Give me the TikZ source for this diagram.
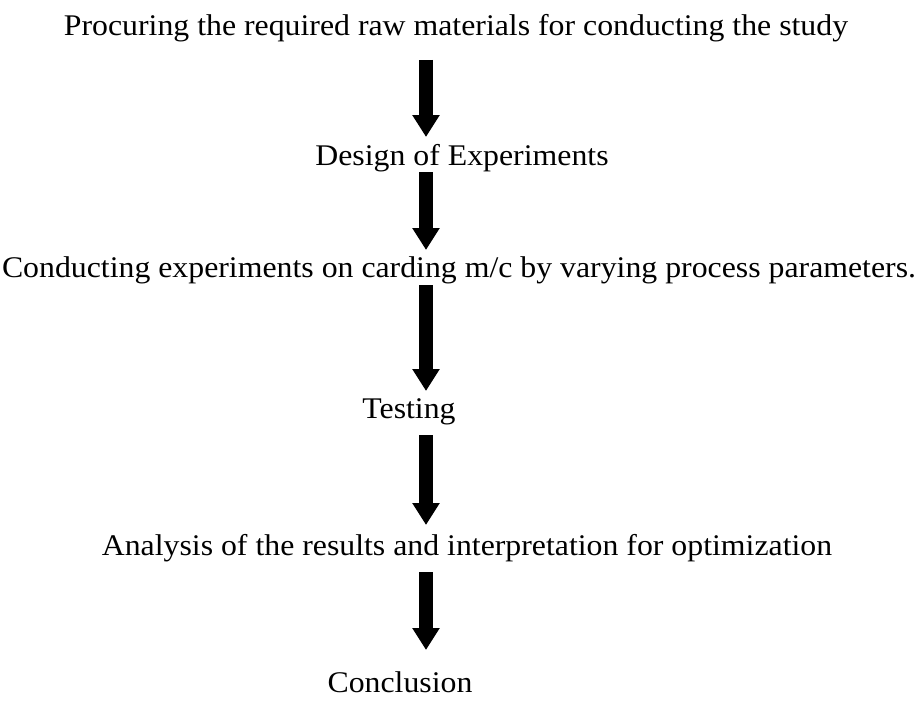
\documentclass[tikz,border=0pt]{standalone}
\usepackage{fontspec}
\setmainfont{Liberation Serif}
\usetikzlibrary{arrows.meta}
\newcommand{\widetext}[1]{\scalebox{1.06}[1]{#1}}
\begin{document}
\begin{tikzpicture}[x=1pt,y=-1pt,
  steptext/.style={inner sep=0pt,font=\fontsize{30}{34}\selectfont},
  bigarrow/.style={line width=14pt,-{Triangle[width=26pt,length=22pt]}}]
\useasboundingbox (0,0) rectangle (918,701);
\node[steptext] (L1) at (456,28) {\widetext{Procuring the required raw materials for conducting the study}};
\node[steptext] (L2) at (462,158) {\widetext{Design of Experiments}};
\node[steptext] (L3) at (459,270) {\widetext{Conducting experiments on carding m/c by varying process parameters.}};
\node[steptext] (L4) at (409,412) {\widetext{Testing}};
\node[steptext] (L5) at (467,548) {\widetext{Analysis of the results and interpretation for optimization}};
\node[steptext] (L6) at (400,682) {\widetext{Conclusion}};
\coordinate (a1s) at (426,60);  \coordinate (a1e) at (426,137);
\coordinate (a2s) at (426,172); \coordinate (a2e) at (426,250);
\coordinate (a3s) at (426,285); \coordinate (a3e) at (426,391);
\coordinate (a4s) at (426,435); \coordinate (a4e) at (426,525);
\coordinate (a5s) at (426,572); \coordinate (a5e) at (426,650);
\draw[bigarrow] (a1s) -- (a1e);
\draw[bigarrow] (a2s) -- (a2e);
\draw[bigarrow] (a3s) -- (a3e);
\draw[bigarrow] (a4s) -- (a4e);
\draw[bigarrow] (a5s) -- (a5e);
\end{tikzpicture}
\end{document}
